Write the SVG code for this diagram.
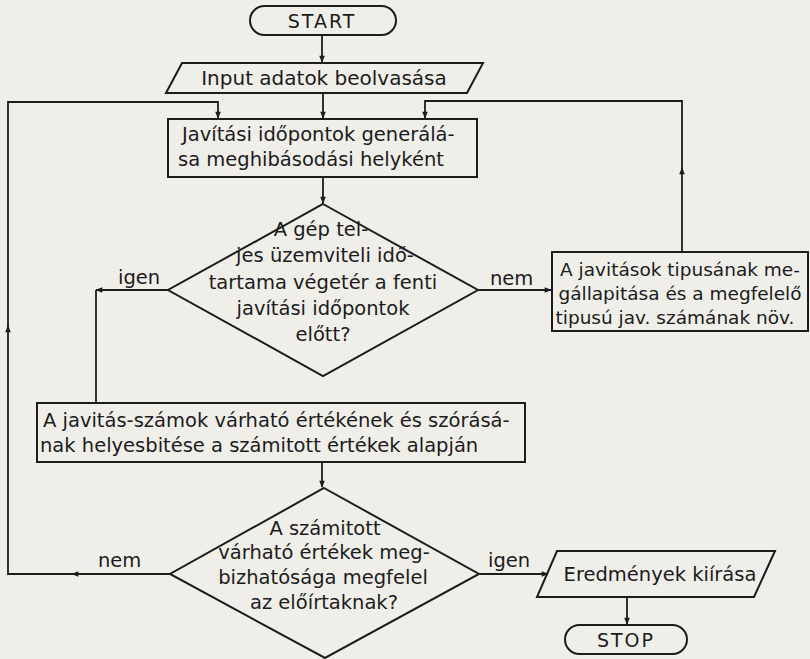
<svg xmlns="http://www.w3.org/2000/svg" width="810" height="659" viewBox="0 0 810 659">
<defs>
<marker id="ah" viewBox="0 0 10 10" refX="9" refY="5" markerWidth="9" markerHeight="7" markerUnits="userSpaceOnUse" orient="auto">
<path d="M0,1 L10,5 L0,9 z" fill="#1c1c1c"/>
</marker>
<style>
.s{fill:none;stroke:#1c1c1c;stroke-width:2;stroke-linejoin:miter}
.c{fill:none;stroke:#1c1c1c;stroke-width:1.8}
text{font-family:"DejaVu Sans","Liberation Sans",sans-serif;font-size:19.5px;fill:#1c1c1c}
.m{text-anchor:middle}
.cap{font-size:19px;letter-spacing:2px}
.r{font-size:18.5px}
.i{font-size:20px}
</style>
</defs>
<rect width="810" height="659" fill="#efeee9"/>
<g id="connectors">
<path class="c" d="M322,35 V62" marker-end="url(#ah)"/>
<path class="c" d="M323,93 V118" marker-end="url(#ah)"/>
<path class="c" d="M323,177 V203" marker-end="url(#ah)"/>
<path class="c" d="M478,290 H551" marker-end="url(#ah)"/>
<path class="c" d="M682,252 V168" marker-end="url(#ah)"/>
<path class="c" d="M682,170 V101 H425 V118" marker-end="url(#ah)"/>
<path class="c" d="M168,290 H96" marker-end="url(#ah)"/>
<path class="c" d="M96,290 V403"/>
<path class="c" d="M322,462 V487" marker-end="url(#ah)"/>
<path class="c" d="M170,574 H72" marker-end="url(#ah)"/>
<path class="c" d="M74,574 H8 V326" marker-end="url(#ah)"/>
<path class="c" d="M8,328 V102 H218 V118" marker-end="url(#ah)"/>
<path class="c" d="M479,574 H548" marker-end="url(#ah)"/>
<path class="c" d="M627,597 V624" marker-end="url(#ah)"/>
</g>
<g id="start">
<rect class="s" x="250" y="6" width="146" height="29" rx="14.5"/>
<text class="m cap" x="322" y="28">START</text>
</g>
<g id="input">
<path class="s" d="M182,63 H483 L467,93 H166 Z"/>
<text class="m i" x="324" y="85">Input adatok beolvasása</text>
</g>
<g id="generate">
<rect class="s" x="168" y="119" width="309" height="58"/>
<text x="182" y="141">Javítási időpontok generálá-</text>
<text x="178" y="166">sa meghibásodási helyként</text>
</g>
<g id="decision1">
<path class="s" d="M323,204 L478,290 L323,376 L168,290 Z"/>
<text class="m" x="321" y="236">A gép tel-</text>
<text class="m" x="325" y="262">jes üzemviteli idő-</text>
<text class="m" x="323" y="289">tartama végetér a fenti</text>
<text class="m" x="323" y="315">javítási időpontok</text>
<text class="m" x="323" y="341">előtt?</text>
</g>
<g id="types">
<rect class="s" x="552" y="252" width="256" height="79"/>
<text class="m r" x="680" y="276">A javitások tipusának me-</text>
<text class="m r" x="680" y="300">gállapitása és a megfelelő</text>
<text class="m r" x="675" y="324">tipusú jav. számának növ.</text>
</g>
<g id="estimate">
<rect class="s" x="37" y="403" width="488" height="59"/>
<text x="43" y="427">A javitás-számok várható értékének és szórásá-</text>
<text x="40" y="452">nak helyesbitése a számitott értékek alapján</text>
</g>
<g id="decision2">
<path class="s" d="M324,488 L479,574 L325,658 L170,574 Z"/>
<text class="m" x="325" y="535">A számitott</text>
<text class="m" x="324" y="559">várható értékek meg-</text>
<text class="m" x="323" y="584">bizhatósága megfelel</text>
<text class="m" x="324" y="609">az előírtaknak?</text>
</g>
<g id="output">
<path class="s" d="M557,551 H775 L754,597 H537 Z"/>
<text class="m" x="660" y="581">Eredmények kiírása</text>
</g>
<g id="stop">
<rect class="s" x="565" y="625" width="122" height="29" rx="14.5"/>
<text class="m cap" x="626" y="647">STOP</text>
</g>
<g id="labels">
<text x="118" y="284">igen</text>
<text x="490" y="285">nem</text>
<text x="98" y="567">nem</text>
<text x="488" y="567">igen</text>
</g>
</svg>
